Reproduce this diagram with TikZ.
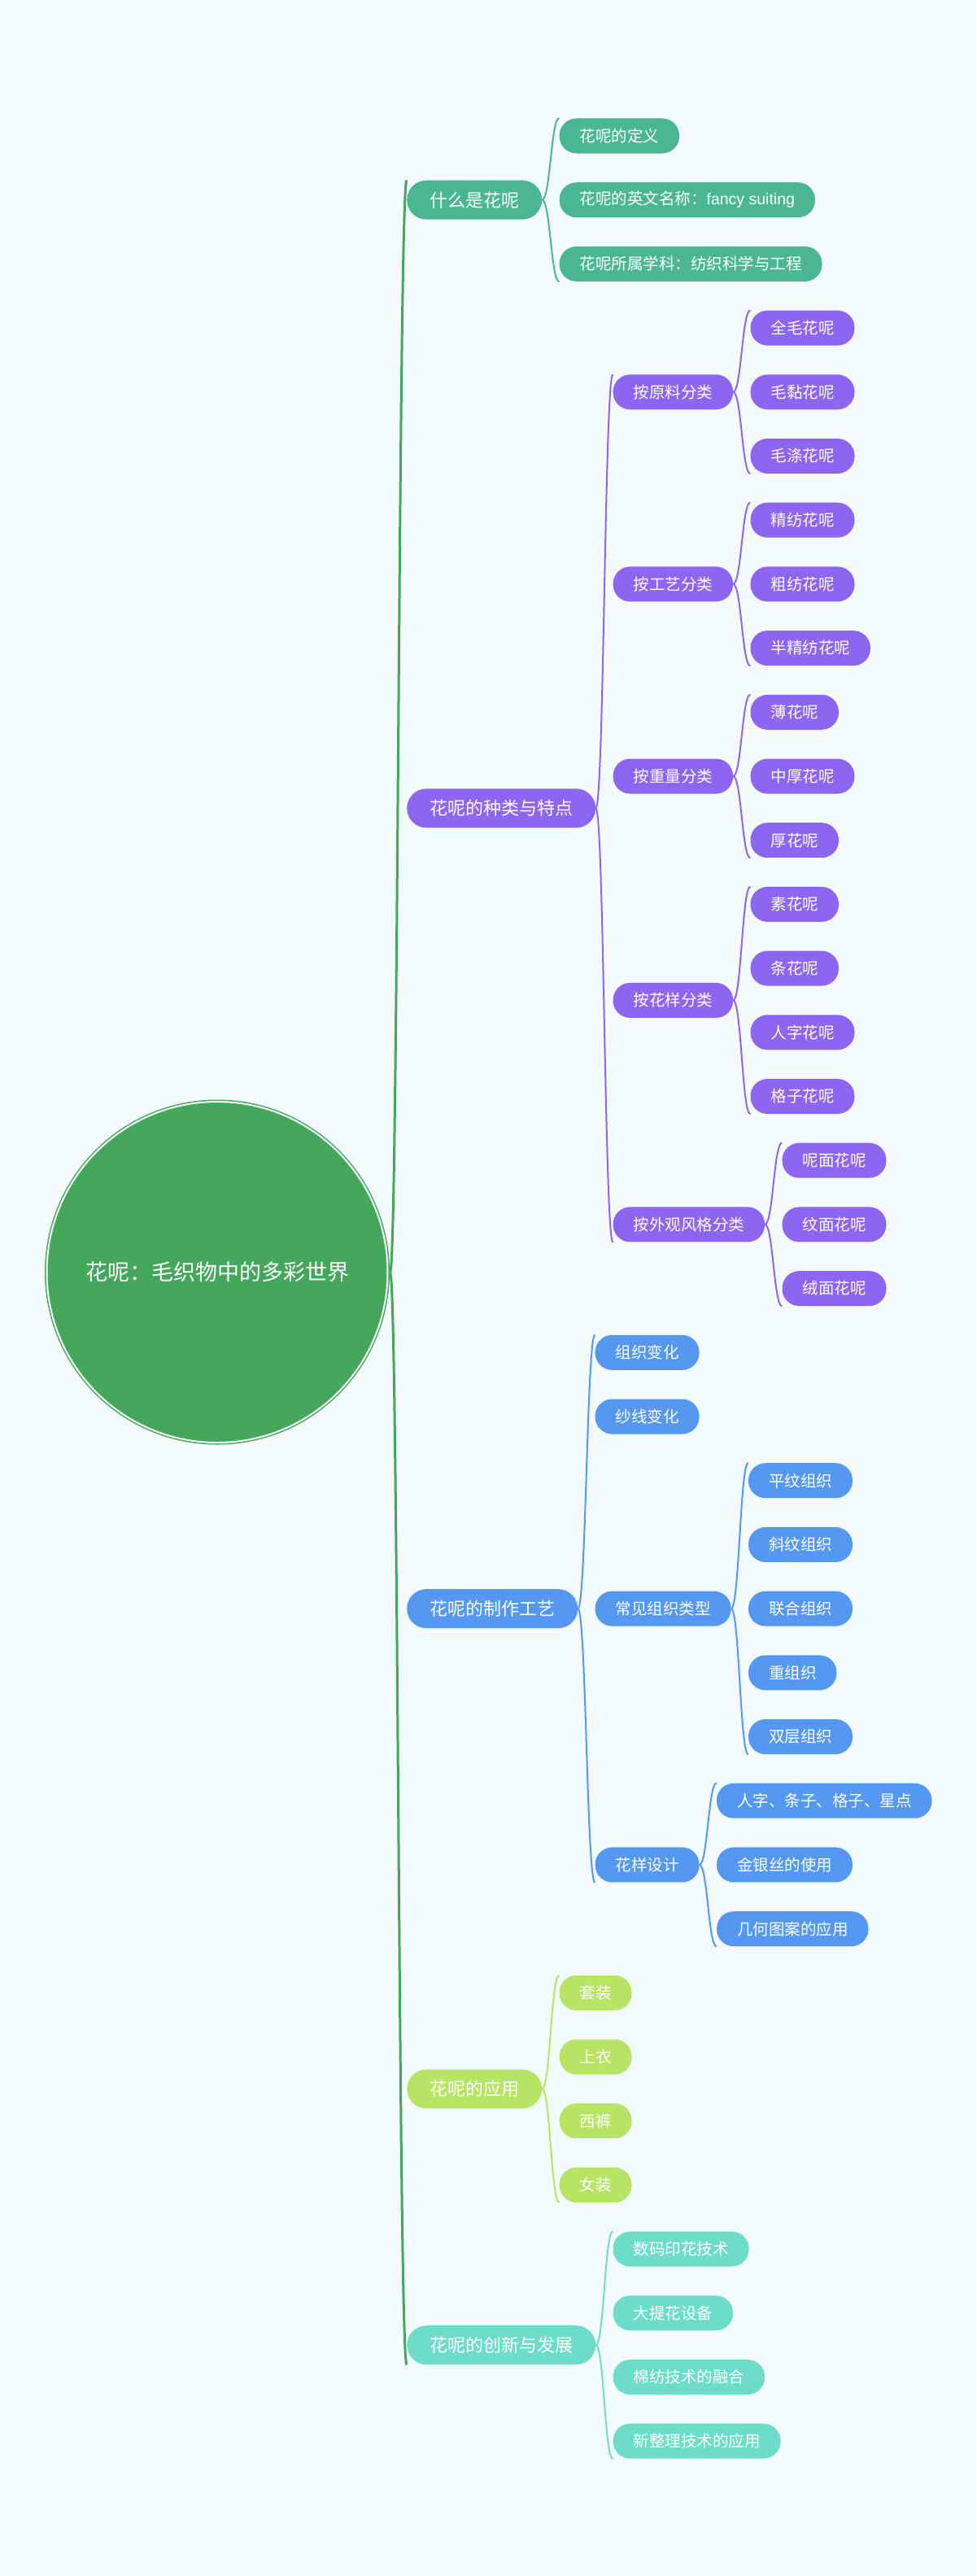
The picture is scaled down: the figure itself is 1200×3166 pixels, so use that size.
\documentclass[tikz,border=0pt]{standalone}
\usepackage{fontspec}
\newfontfamily\cjk{Noto Sans CJK SC}
\newfontfamily\latn{Liberation Sans}
\usetikzlibrary{calc}
\definecolor{bgc}{RGB}{244,251,254}
\definecolor{rootc}{RGB}{68,167,92}
\definecolor{gA}{RGB}{74,183,146}
\definecolor{gB}{RGB}{140,102,240}
\definecolor{gC}{RGB}{85,152,242}
\definecolor{gD}{RGB}{184,228,102}
\definecolor{gE}{RGB}{109,221,201}
\tikzset{
  pillbox/.style={rectangle, rounded corners=21pt, text=white, inner ysep=0pt,
    inner xsep=25pt, minimum height=43pt, anchor=west,
    font=\cjk\fontsize{19.5}{23}\selectfont},
  kid/.style={pillbox, xshift=21pt},
  topic/.style={pillbox, rounded corners=24pt, minimum height=48pt, inner xsep=28pt,
    font=\cjk\fontsize{22}{26}\selectfont},
}
\newcommand\mmbrace[5]{%
  \draw[#1, line width=#5] (#2) .. controls +(10,0) and +(-10,0) .. (#3.north west)
        (#2) .. controls +(10,0) and +(-10,0) .. (#4.south west);}
\begin{document}
\begin{tikzpicture}[x=1pt,y=-1pt]
\fill[bgc] (0,0) rectangle (1200,3166);
\useasboundingbox (0,0) rectangle (1200,3166);
\foreach \k in {0,...,72} \coordinate (h\k) at (0,{167+39.35*\k});
\coordinate (L) at (500,0);

% root
\node[circle, fill=rootc, draw=rootc, double=white, double distance=2pt, line width=1.5pt,
  minimum size=419pt, inner sep=0pt, outer sep=0pt, text=white,
  font=\cjk\fontsize{27}{32}\selectfont] (root) at (267,1563.5) {花呢：毛织物中的多彩世界};
\coordinate (tip) at ([xshift=3pt]root.east);

% level 1
\node[topic, fill=gA] (n1) at (L |- h2) {什么是花呢};
\node[topic, fill=gB] (n2) at (L |- h21) {花呢的种类与特点};
\node[topic, fill=gC] (n3) at (L |- h46) {花呢的制作工艺};
\node[topic, fill=gD] (n4) at (L |- h61) {花呢的应用};
\node[topic, fill=gE] (n5) at (L |- h69) {花呢的创新与发展};

% group 1
\node[kid, fill=gA] (a1) at (n1.east |- h0) {花呢的定义};
\node[kid, fill=gA] (a2) at (n1.east |- h2) {花呢的英文名称：{\latn fancy suiting}};
\node[kid, fill=gA] (a3) at (n1.east |- h4) {花呢所属学科：纺织科学与工程};

% group 2
\node[kid, fill=gB] (b1) at (n2.east |- h8) {按原料分类};
\node[kid, fill=gB] (b2) at (n2.east |- h14) {按工艺分类};
\node[kid, fill=gB] (b3) at (n2.east |- h20) {按重量分类};
\node[kid, fill=gB] (b4) at (n2.east |- h27) {按花样分类};
\node[kid, fill=gB] (b5) at (n2.east |- h34) {按外观风格分类};

\node[kid, fill=gB] (b11) at (b1.east |- h6) {全毛花呢};
\node[kid, fill=gB] (b12) at (b1.east |- h8) {毛黏花呢};
\node[kid, fill=gB] (b13) at (b1.east |- h10) {毛涤花呢};
\node[kid, fill=gB] (b21) at (b2.east |- h12) {精纺花呢};
\node[kid, fill=gB] (b22) at (b2.east |- h14) {粗纺花呢};
\node[kid, fill=gB] (b23) at (b2.east |- h16) {半精纺花呢};
\node[kid, fill=gB] (b31) at (b3.east |- h18) {薄花呢};
\node[kid, fill=gB] (b32) at (b3.east |- h20) {中厚花呢};
\node[kid, fill=gB] (b33) at (b3.east |- h22) {厚花呢};
\node[kid, fill=gB] (b41) at (b4.east |- h24) {素花呢};
\node[kid, fill=gB] (b42) at (b4.east |- h26) {条花呢};
\node[kid, fill=gB] (b43) at (b4.east |- h28) {人字花呢};
\node[kid, fill=gB] (b44) at (b4.east |- h30) {格子花呢};
\node[kid, fill=gB] (b51) at (b5.east |- h32) {呢面花呢};
\node[kid, fill=gB] (b52) at (b5.east |- h34) {纹面花呢};
\node[kid, fill=gB] (b53) at (b5.east |- h36) {绒面花呢};

% group 3
\node[kid, fill=gC] (c1) at (n3.east |- h38) {组织变化};
\node[kid, fill=gC] (c2) at (n3.east |- h40) {纱线变化};
\node[kid, fill=gC] (c3) at (n3.east |- h46) {常见组织类型};
\node[kid, fill=gC] (c4) at (n3.east |- h54) {花样设计};
\node[kid, fill=gC] (c31) at (c3.east |- h42) {平纹组织};
\node[kid, fill=gC] (c32) at (c3.east |- h44) {斜纹组织};
\node[kid, fill=gC] (c33) at (c3.east |- h46) {联合组织};
\node[kid, fill=gC] (c34) at (c3.east |- h48) {重组织};
\node[kid, fill=gC] (c35) at (c3.east |- h50) {双层组织};
\node[kid, fill=gC] (c41) at (c4.east |- h52) {人字、条子、格子、星点};
\node[kid, fill=gC] (c42) at (c4.east |- h54) {金银丝的使用};
\node[kid, fill=gC] (c43) at (c4.east |- h56) {几何图案的应用};

% group 4
\node[kid, fill=gD] (d1) at (n4.east |- h58) {套装};
\node[kid, fill=gD] (d2) at (n4.east |- h60) {上衣};
\node[kid, fill=gD] (d3) at (n4.east |- h62) {西裤};
\node[kid, fill=gD] (d4) at (n4.east |- h64) {女装};

% group 5
\node[kid, fill=gE] (e1) at (n5.east |- h66) {数码印花技术};
\node[kid, fill=gE] (e2) at (n5.east |- h68) {大提花设备};
\node[kid, fill=gE] (e3) at (n5.east |- h70) {棉纺技术的融合};
\node[kid, fill=gE] (e4) at (n5.east |- h72) {新整理技术的应用};

% braces
\mmbrace{rootc}{tip}{n1}{n5}{3pt}
\mmbrace{gA}{n1.east}{a1}{a3}{2pt}
\mmbrace{gB}{n2.east}{b1}{b5}{2pt}
\mmbrace{gB}{b1.east}{b11}{b13}{2pt}
\mmbrace{gB}{b2.east}{b21}{b23}{2pt}
\mmbrace{gB}{b3.east}{b31}{b33}{2pt}
\mmbrace{gB}{b4.east}{b41}{b44}{2pt}
\mmbrace{gB}{b5.east}{b51}{b53}{2pt}
\mmbrace{gC}{n3.east}{c1}{c4}{2pt}
\mmbrace{gC}{c3.east}{c31}{c35}{2pt}
\mmbrace{gC}{c4.east}{c41}{c43}{2pt}
\mmbrace{gD}{n4.east}{d1}{d4}{2pt}
\mmbrace{gE}{n5.east}{e1}{e4}{2pt}
\end{tikzpicture}
\end{document}
